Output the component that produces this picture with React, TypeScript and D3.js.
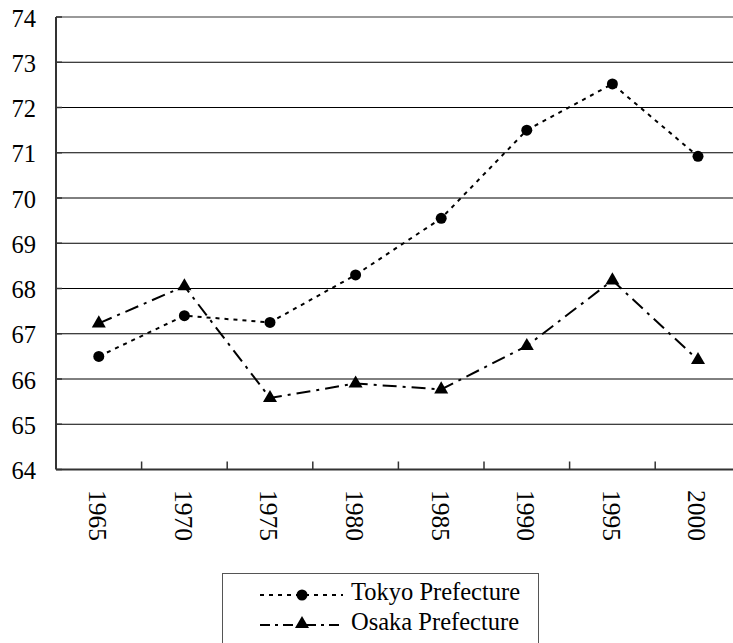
import React from "react";
import { scaleBand, scaleLinear, line, symbol, symbolTriangle, range } from "d3";

const years = ["1965", "1970", "1975", "1980", "1985", "1990", "1995", "2000"];
const tokyo = [66.5, 67.4, 67.25, 68.3, 69.55, 71.5, 72.52, 70.92];
const osaka = [67.23, 68.05, 65.58, 65.9, 65.77, 66.73, 68.18, 66.42];
const yTicks = [64, 65, 66, 67, 68, 69, 70, 71, 72, 73, 74];

const W = 733;
const H = 643;
const left = 56;
const top = 17;
const bottom = 469.5;
const font = "'Liberation Serif', 'Times New Roman', serif";

const tokyoDash = "4,5";
const osakaDash = "14,6,3,6";

export default function App() {
  const x = scaleBand<string>().domain(years).range([left, left + 8 * 85.6]);
  const y = scaleLinear().domain([64, 74]).range([bottom, top]);
  const cx = (d: string) => (x(d) as number) + x.bandwidth() / 2;

  const path = line<number>()
    .x((_, i) => cx(years[i]))
    .y((v) => y(v));

  const tri = symbol().type(symbolTriangle).size(85)() as string;
  const right = left + 8 * 85.6;

  return (
    <svg
      width={W}
      height={H}
      style={{ position: "absolute", left: 0, top: 0, background: "#fff" }}
      fontFamily={font}
    >
      {/* gridlines */}
      {yTicks.slice(1, -1).map((t) => (
        <line key={t} x1={left} x2={right} y1={y(t)} y2={y(t)} stroke="#000" strokeWidth={1} />
      ))}
      {/* top border */}
      <line x1={left} x2={right} y1={y(74)} y2={y(74)} stroke="#999" strokeWidth={2} />
      {/* y axis */}
      <line x1={left} x2={left} y1={top} y2={bottom} stroke="#333" strokeWidth={2} />
      {yTicks.map((t) => (
        <g key={t}>
          <line x1={left} x2={left + 6} y1={y(t)} y2={y(t)} stroke="#333" strokeWidth={1.5} />
          <text x={36} y={y(t) + 9.5} fontSize={24.5} textAnchor="end" fill="#000">
            {t}
          </text>
        </g>
      ))}
      {/* x axis */}
      <line x1={left} x2={right} y1={bottom} y2={bottom} stroke="#333" strokeWidth={2} />
      {range(1, years.length).map((i) => (
        <line
          key={i}
          x1={x(years[i]) as number}
          x2={x(years[i]) as number}
          y1={bottom}
          y2={bottom - 8}
          stroke="#333"
          strokeWidth={1.5}
        />
      ))}
      {years.map((d) => (
        <text
          key={d}
          transform={`translate(${cx(d) - 1},490) rotate(90)`}
          dy="0.34em"
          fontSize={25.5}
          fill="#000"
        >
          {d}
        </text>
      ))}

      {/* series */}
      <path d={path(tokyo) as string} fill="none" stroke="#000" strokeWidth={2} strokeDasharray={tokyoDash} />
      <path d={path(osaka) as string} fill="none" stroke="#000" strokeWidth={2} strokeDasharray={osakaDash} />
      {tokyo.map((v, i) => (
        <circle key={i} cx={cx(years[i])} cy={y(v)} r={5.5} fill="#000" />
      ))}
      {osaka.map((v, i) => (
        <path key={i} d={tri} transform={`translate(${cx(years[i])},${y(v)})`} fill="#000" />
      ))}

      {/* legend */}
      <rect x={222.5} y={573.5} width={316} height={90} fill="#fff" stroke="#555" strokeWidth={1} />
      <line x1={260} x2={343} y1={595} y2={595} stroke="#000" strokeWidth={2} strokeDasharray={tokyoDash} />
      <circle cx={302} cy={595} r={5.5} fill="#000" />
      <text x={351} y={599.5} fontSize={24.5} fill="#000">
        Tokyo Prefecture
      </text>
      <line x1={260} x2={343} y1={625} y2={625} stroke="#000" strokeWidth={2} strokeDasharray="10,5,3,5" />
      <path d={tri} transform="translate(302,624)" fill="#000" />
      <text x={351} y={629.5} fontSize={24.5} fill="#000">
        Osaka Prefecture
      </text>
    </svg>
  );
}
